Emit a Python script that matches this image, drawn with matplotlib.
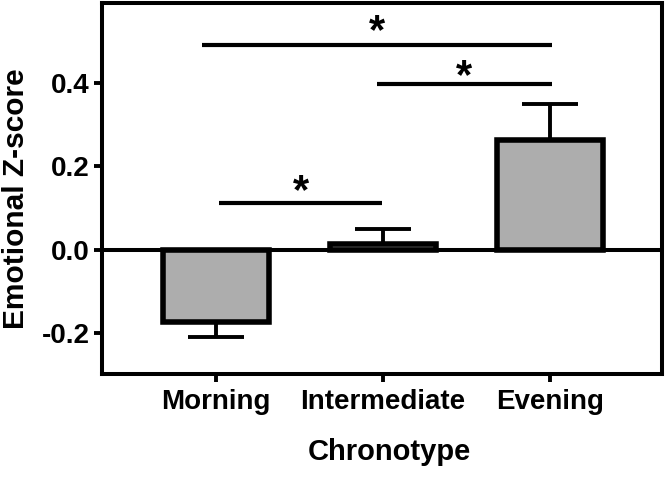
import matplotlib
matplotlib.use("Agg")
import matplotlib.pyplot as plt
import numpy as np

categories = ["Morning", "Intermediate", "Evening"]
means = [-0.173, 0.013, 0.263]
errors = [0.037, 0.037, 0.087]
y_ticks = [-0.2, 0.0, 0.2, 0.4]
y_tick_labels = ["-0.2", "0.0", "0.2", "0.4"]
sig_x0 = [-0.084, 0.964, 0.018]
sig_x1 = [2.01, 2.01, 0.994]
sig_y = [0.492, 0.398, 0.113]
star_y = [0.540, 0.432, 0.156]
sig_labels = ["*", "*", "*"]

plt.rcParams['font.family'] = ['Liberation Sans', 'DejaVu Sans']
plt.rcParams['font.weight'] = 'bold'

fig = plt.figure(figsize=(6.69, 4.84), dpi=100)
ax = fig.add_axes([102 / 669, 1 - 374 / 484, 560 / 669, 371 / 484])

x = np.arange(len(categories))
ax.bar(x, means, width=0.635, color="#adadad", edgecolor="black", linewidth=4.0, zorder=3)
for xi, m, e in zip(x, means, errors):
    yerr = [[0], [e]] if m >= 0 else [[e], [0]]
    ax.errorbar([xi], [m], yerr=yerr, fmt='none', ecolor='black',
                elinewidth=2.8, capsize=20, capthick=2.8, zorder=2)

ax.axhline(0, color='black', linewidth=2.9, zorder=4)

star_fs = 30
for a, b, yy, sy, lab in zip(sig_x0, sig_x1, sig_y, star_y, sig_labels):
    ax.plot([a, b], [yy, yy], color='black', linewidth=3.0, solid_capstyle='butt')
    ax.annotate(lab, xy=((a + b) / 2, sy), xytext=(0, -0.44 * star_fs),
                textcoords='offset points', ha='center', va='baseline',
                fontsize=star_fs, fontweight='bold')

ax.set_xlim(-0.683, 2.67)
ax.set_ylim(-0.298, 0.592)
ax.set_xticks(x)
ax.set_xticklabels(categories, fontsize=20, fontweight='bold')
ax.set_yticks(y_ticks)
ax.set_yticklabels(y_tick_labels, fontsize=20, fontweight='bold')
ax.tick_params(axis='both', width=2.8, length=6, direction='out')
ax.tick_params(axis='x', pad=5)
ax.tick_params(axis='y', pad=3)
for s in ax.spines.values():
    s.set_linewidth(2.9)

ax.set_xlabel("Chronotype", fontsize=21, fontweight='bold')
ax.set_ylabel("Emotional Z-score", fontsize=21.5, fontweight='bold')
ax.xaxis.set_label_coords((389 - 102) / 560, (374 - 438) / 371)
ax.yaxis.set_label_coords((30 - 102) / 560, (374 - 198.5) / 371)

fig.savefig("out.png", dpi=100)
